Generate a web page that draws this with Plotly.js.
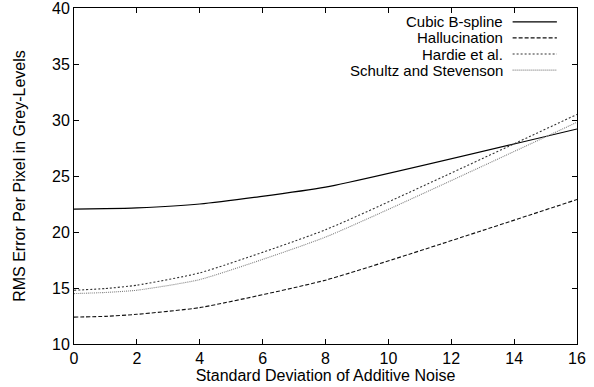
<!DOCTYPE html>
<html>
<head>
<meta charset="utf-8">
<script src="https://cdn.plot.ly/plotly-3.0.1.min.js"></script>
<style>html,body{margin:0;padding:0;background:#fff;}#chart{width:594px;height:387px;}</style>
</head>
<body>
<div id="chart"></div>
<script>
const noise = [0, 1, 2, 4, 8, 16];
const cubicBSpline = [22.05, 22.08, 22.15, 22.5, 24.0, 29.2];
const hallucination = [12.4, 12.47, 12.65, 13.25, 15.7, 22.9];
const hardie = [14.8, 14.95, 15.25, 16.35, 20.2, 30.5];
const schultz = [14.5, 14.6, 14.8, 15.75, 19.55, 29.8];
const seriesNames = ["Cubic B-spline", "Hallucination", "Hardie et al.", "Schultz and Stevenson"];
const xTicks = [0, 2, 4, 6, 8, 10, 12, 14, 16];
const yTicks = [10, 15, 20, 25, 30, 35, 40];

const FONT = "Liberation Sans, Arial, Helvetica, sans-serif";
const styles = [
  {color: "#000000", dash: "solid", width: 1.2},
  {color: "#111111", dash: "4px,2px", width: 1.1},
  {color: "#333333", dash: "2px,2px", width: 1.1},
  {color: "#808080", dash: "1px,1px", width: 1.1}
];
const ys = [cubicBSpline, hallucination, hardie, schultz];

const traces = ys.map((y, i) => ({
  x: noise, y: y, type: "scatter", mode: "lines", name: seriesNames[i],
  line: {color: styles[i].color, dash: styles[i].dash, width: styles[i].width, shape: "spline", smoothing: 0.5},
  showlegend: false, hoverinfo: "skip"
}));

const legY = [0.959, 0.911, 0.863, 0.815];
const annotations = seriesNames.map((n, i) => ({
  xref: "paper", yref: "paper", x: 0.855, y: legY[i], xanchor: "right", yanchor: "middle",
  text: n, showarrow: false, font: {family: FONT, size: 15, color: "#000"},
  borderpad: 0
}));
const shapes = seriesNames.map((n, i) => ({
  type: "line", xref: "paper", yref: "paper", x0: 0.872, x1: 0.960, y0: legY[i], y1: legY[i],
  line: {color: styles[i].color, dash: styles[i].dash, width: styles[i].width}
}));

const axisCommon = {
  showgrid: false, zeroline: false, showline: true, linecolor: "#000", linewidth: 1,
  mirror: "allticks", ticks: "inside", ticklen: 5, tickcolor: "#000", tickwidth: 1,
  ticklabeloverflow: "allow",
  tickfont: {family: FONT, size: 16, color: "#000"}
};

const layout = {
  width: 594, height: 387,
  margin: {l: 74, r: 17, t: 8, b: 43},
  paper_bgcolor: "#fff", plot_bgcolor: "#fff",
  xaxis: Object.assign({}, axisCommon, {
    range: [0, 16], tickvals: xTicks, ticktext: xTicks.map(String),
    title: {text: "Standard Deviation of Additive Noise", standoff: 0,
      font: {family: FONT, size: 16, color: "#000"}}
  }),
  yaxis: Object.assign({}, axisCommon, {
    range: [10, 40], tickvals: yTicks, ticktext: yTicks.map(String),
    title: {text: "RMS Error Per Pixel in Grey-Levels", standoff: 22,
      font: {family: FONT, size: 16, color: "#000"}}
  }),
  annotations: annotations, shapes: shapes
};

Plotly.newPlot("chart", traces, layout, {staticPlot: true, displayModeBar: false});
</script>
</body>
</html>
